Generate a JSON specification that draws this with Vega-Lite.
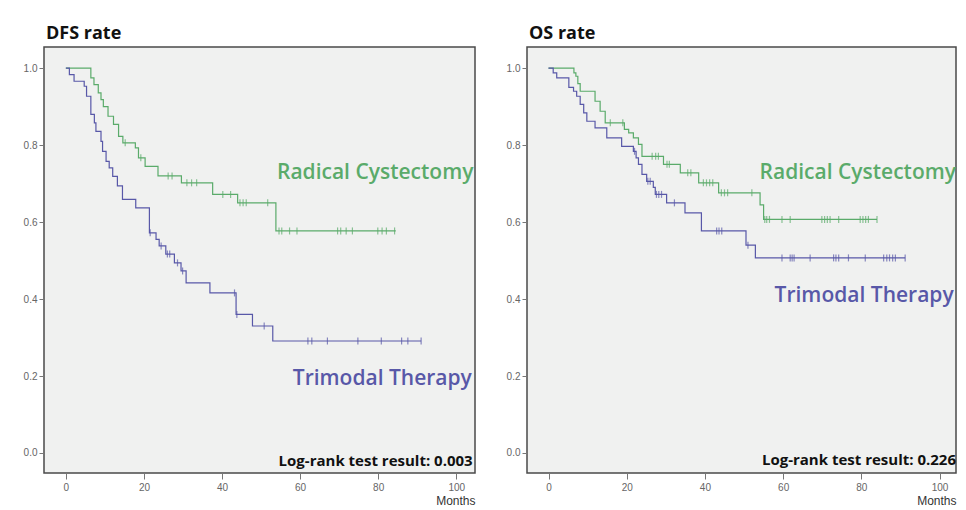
{
  "$schema": "https://vega.github.io/schema/vega-lite/v6.json",
  "background": "white",
  "padding": {"left": 22, "top": 24, "right": 4, "bottom": 1},
  "spacing": 29,
  "config": {
    "view": {"fill": "#f0f1f0", "stroke": "#4a4a4a", "strokeWidth": 1.5},
    "axis": {"labelFont": "Liberation Sans", "labelFontSize": 10, "labelColor": "#666", "tickColor": "#777", "tickSize": 5, "domain": false, "grid": false, "titleFont": "Liberation Sans"},
    "title": {"font": "Open Sans", "fontSize": 18, "fontWeight": "bold", "anchor": "start", "frame": "group", "dx": 2, "color": "#111", "offset": 4}
  },
  "datasets": {
    "dfs_curve": [
      {"g":"RC","m":0,"s":1},{"g":"RC","m":6.4,"s":0.975},{"g":"RC","m":7.2,"s":0.957},{"g":"RC","m":8.3,"s":0.936},{"g":"RC","m":9.0,"s":0.918},{"g":"RC","m":9.6,"s":0.9},{"g":"RC","m":10.8,"s":0.875},{"g":"RC","m":12.2,"s":0.854},{"g":"RC","m":13.5,"s":0.823},{"g":"RC","m":14.6,"s":0.806},{"g":"RC","m":17.8,"s":0.793},{"g":"RC","m":18.6,"s":0.767},{"g":"RC","m":20.3,"s":0.745},{"g":"RC","m":23.6,"s":0.72},{"g":"RC","m":29.6,"s":0.702},{"g":"RC","m":37.6,"s":0.672},{"g":"RC","m":44.0,"s":0.65},{"g":"RC","m":53.8,"s":0.577},{"g":"RC","m":84.5,"s":0.577},
      {"g":"TMT","m":0,"s":1},{"g":"TMT","m":0.9,"s":0.983},{"g":"TMT","m":2.1,"s":0.966},{"g":"TMT","m":4.7,"s":0.953},{"g":"TMT","m":5.3,"s":0.927},{"g":"TMT","m":6.4,"s":0.88},{"g":"TMT","m":7.3,"s":0.858},{"g":"TMT","m":7.7,"s":0.836},{"g":"TMT","m":9.0,"s":0.81},{"g":"TMT","m":9.4,"s":0.784},{"g":"TMT","m":10.3,"s":0.758},{"g":"TMT","m":11.1,"s":0.741},{"g":"TMT","m":12.0,"s":0.719},{"g":"TMT","m":13.2,"s":0.694},{"g":"TMT","m":14.5,"s":0.659},{"g":"TMT","m":17.9,"s":0.637},{"g":"TMT","m":21.4,"s":0.572},{"g":"TMT","m":23.1,"s":0.555},{"g":"TMT","m":23.9,"s":0.538},{"g":"TMT","m":25.6,"s":0.517},{"g":"TMT","m":27.8,"s":0.494},{"g":"TMT","m":29.5,"s":0.473},{"g":"TMT","m":30.8,"s":0.442},{"g":"TMT","m":36.9,"s":0.416},{"g":"TMT","m":43.6,"s":0.36},{"g":"TMT","m":47.8,"s":0.33},{"g":"TMT","m":53.0,"s":0.291},{"g":"TMT","m":91.0,"s":0.291}
    ],
    "dfs_cens": [
      {"g":"RC","m":15.2,"s":0.806},{"g":"RC","m":19.2,"s":0.767},{"g":"RC","m":26.2,"s":0.72},{"g":"RC","m":27.2,"s":0.72},{"g":"RC","m":31.0,"s":0.702},{"g":"RC","m":32.2,"s":0.702},{"g":"RC","m":33.5,"s":0.702},{"g":"RC","m":40.2,"s":0.672},{"g":"RC","m":42.2,"s":0.672},{"g":"RC","m":44.6,"s":0.65},{"g":"RC","m":45.4,"s":0.65},{"g":"RC","m":46.2,"s":0.65},{"g":"RC","m":51.7,"s":0.65},{"g":"RC","m":54.6,"s":0.577},{"g":"RC","m":55.3,"s":0.577},{"g":"RC","m":57.3,"s":0.577},{"g":"RC","m":59.2,"s":0.577},{"g":"RC","m":69.6,"s":0.577},{"g":"RC","m":70.4,"s":0.577},{"g":"RC","m":71.8,"s":0.577},{"g":"RC","m":73.4,"s":0.577},{"g":"RC","m":79.9,"s":0.577},{"g":"RC","m":81.0,"s":0.577},{"g":"RC","m":82.1,"s":0.577},{"g":"RC","m":84.2,"s":0.577},
      {"g":"TMT","m":21.6,"s":0.572},{"g":"TMT","m":24.4,"s":0.538},{"g":"TMT","m":26.0,"s":0.517},{"g":"TMT","m":26.6,"s":0.517},{"g":"TMT","m":28.6,"s":0.494},{"g":"TMT","m":29.9,"s":0.473},{"g":"TMT","m":43.2,"s":0.416},{"g":"TMT","m":43.8,"s":0.36},{"g":"TMT","m":50.8,"s":0.33},{"g":"TMT","m":62.0,"s":0.291},{"g":"TMT","m":63.0,"s":0.291},{"g":"TMT","m":67.0,"s":0.291},{"g":"TMT","m":74.8,"s":0.291},{"g":"TMT","m":80.8,"s":0.291},{"g":"TMT","m":86.0,"s":0.291},{"g":"TMT","m":87.6,"s":0.291},{"g":"TMT","m":91.0,"s":0.291}
    ],
    "os_curve": [
      {"g":"RC","m":0,"s":1},{"g":"RC","m":6.5,"s":0.988},{"g":"RC","m":7.0,"s":0.979},{"g":"RC","m":7.5,"s":0.96},{"g":"RC","m":8.1,"s":0.94},{"g":"RC","m":11.9,"s":0.914},{"g":"RC","m":13.2,"s":0.888},{"g":"RC","m":14.5,"s":0.858},{"g":"RC","m":19.4,"s":0.841},{"g":"RC","m":20.5,"s":0.832},{"g":"RC","m":21.7,"s":0.819},{"g":"RC","m":23.0,"s":0.802},{"g":"RC","m":23.9,"s":0.771},{"g":"RC","m":29.4,"s":0.75},{"g":"RC","m":33.7,"s":0.728},{"g":"RC","m":38.4,"s":0.702},{"g":"RC","m":43.5,"s":0.676},{"g":"RC","m":54.1,"s":0.645},{"g":"RC","m":55.0,"s":0.607},{"g":"RC","m":84.0,"s":0.607},
      {"g":"TMT","m":0,"s":1},{"g":"TMT","m":1.2,"s":0.988},{"g":"TMT","m":2.1,"s":0.975},{"g":"TMT","m":5.2,"s":0.95},{"g":"TMT","m":6.4,"s":0.94},{"g":"TMT","m":7.2,"s":0.927},{"g":"TMT","m":8.1,"s":0.906},{"g":"TMT","m":9.0,"s":0.884},{"g":"TMT","m":9.8,"s":0.862},{"g":"TMT","m":11.9,"s":0.845},{"g":"TMT","m":14.9,"s":0.819},{"g":"TMT","m":18.7,"s":0.797},{"g":"TMT","m":21.7,"s":0.784},{"g":"TMT","m":22.4,"s":0.767},{"g":"TMT","m":23.0,"s":0.75},{"g":"TMT","m":23.9,"s":0.724},{"g":"TMT","m":25.1,"s":0.706},{"g":"TMT","m":26.8,"s":0.69},{"g":"TMT","m":27.3,"s":0.672},{"g":"TMT","m":30.2,"s":0.65},{"g":"TMT","m":34.9,"s":0.624},{"g":"TMT","m":39.1,"s":0.577},{"g":"TMT","m":50.5,"s":0.54},{"g":"TMT","m":52.9,"s":0.507},{"g":"TMT","m":91.2,"s":0.507}
    ],
    "os_cens": [
      {"g":"RC","m":15.8,"s":0.858},{"g":"RC","m":19.0,"s":0.858},{"g":"RC","m":26.5,"s":0.771},{"g":"RC","m":27.4,"s":0.771},{"g":"RC","m":28.1,"s":0.771},{"g":"RC","m":30.3,"s":0.75},{"g":"RC","m":30.9,"s":0.75},{"g":"RC","m":35.6,"s":0.728},{"g":"RC","m":36.4,"s":0.728},{"g":"RC","m":39.6,"s":0.702},{"g":"RC","m":40.4,"s":0.702},{"g":"RC","m":41.2,"s":0.702},{"g":"RC","m":42.0,"s":0.702},{"g":"RC","m":44.2,"s":0.676},{"g":"RC","m":45.0,"s":0.676},{"g":"RC","m":45.8,"s":0.676},{"g":"RC","m":52.0,"s":0.676},{"g":"RC","m":55.3,"s":0.607},{"g":"RC","m":55.8,"s":0.607},{"g":"RC","m":56.5,"s":0.607},{"g":"RC","m":59.7,"s":0.607},{"g":"RC","m":61.8,"s":0.607},{"g":"RC","m":69.9,"s":0.607},{"g":"RC","m":70.6,"s":0.607},{"g":"RC","m":71.3,"s":0.607},{"g":"RC","m":72.0,"s":0.607},{"g":"RC","m":74.2,"s":0.607},{"g":"RC","m":79.7,"s":0.607},{"g":"RC","m":80.4,"s":0.607},{"g":"RC","m":81.1,"s":0.607},{"g":"RC","m":81.8,"s":0.607},{"g":"RC","m":84.0,"s":0.607},
      {"g":"TMT","m":22.0,"s":0.784},{"g":"TMT","m":25.4,"s":0.706},{"g":"TMT","m":26.0,"s":0.706},{"g":"TMT","m":27.6,"s":0.672},{"g":"TMT","m":28.2,"s":0.672},{"g":"TMT","m":28.9,"s":0.672},{"g":"TMT","m":32.2,"s":0.65},{"g":"TMT","m":43.0,"s":0.577},{"g":"TMT","m":43.6,"s":0.577},{"g":"TMT","m":44.3,"s":0.577},{"g":"TMT","m":51.0,"s":0.54},{"g":"TMT","m":59.7,"s":0.507},{"g":"TMT","m":61.8,"s":0.507},{"g":"TMT","m":62.3,"s":0.507},{"g":"TMT","m":62.8,"s":0.507},{"g":"TMT","m":66.9,"s":0.507},{"g":"TMT","m":72.9,"s":0.507},{"g":"TMT","m":73.5,"s":0.507},{"g":"TMT","m":74.2,"s":0.507},{"g":"TMT","m":76.7,"s":0.507},{"g":"TMT","m":81.0,"s":0.507},{"g":"TMT","m":85.7,"s":0.507},{"g":"TMT","m":86.5,"s":0.507},{"g":"TMT","m":87.2,"s":0.507},{"g":"TMT","m":88.0,"s":0.507},{"g":"TMT","m":88.7,"s":0.507},{"g":"TMT","m":91.2,"s":0.507}
    ],
    "dfs_labels": [
      {"g":"RC","m":104.4,"s":0.727,"label":"Radical Cystectomy"},
      {"g":"TMT","m":104.0,"s":0.192,"label":"Trimodal Therapy"}
    ],
    "os_labels": [
      {"g":"RC","m":104.2,"s":0.727,"label":"Radical Cystectomy"},
      {"g":"TMT","m":103.6,"s":0.408,"label":"Trimodal Therapy"}
    ],
    "dfs_lr": [{"m":104.2,"s":-0.022,"label":"Log-rank test result: 0.003"}],
    "os_lr": [{"m":104.2,"s":-0.018,"label":"Log-rank test result: 0.226"}]
  },
  "hconcat": [
    {
      "title": {"text": "DFS rate"},
      "width": 431,
      "height": 426,
      "layer": [
        {
          "data": {"name": "dfs_curve"},
          "mark": {"type": "line", "interpolate": "step-after", "strokeWidth": 1.2},
          "encoding": {
            "x": {"field": "m", "type": "quantitative", "scale": {"domain": [-5.6, 104.8], "nice": false, "zero": false}, "axis": {"values": [0,20,40,60,80,100], "title": "Months", "titleAnchor": "end", "titleAlign": "right", "titleFontSize": 12, "titleFontWeight": "normal", "titleColor": "#333", "titlePadding": 3, "labelPadding": 3, "tickSize": 6}},
            "y": {"field": "s", "type": "quantitative", "scale": {"domain": [-0.052, 1.055], "nice": false, "zero": false}, "axis": {"values": [0,0.2,0.4,0.6,0.8,1.0], "format": ".1f", "title": null, "labelPadding": 2}},
            "color": {"field": "g", "type": "nominal", "scale": {"domain": ["RC","TMT"], "range": ["#5aab6a","#5858a8"]}, "legend": null}
          }
        },
        {
          "data": {"name": "dfs_cens"},
          "mark": {"type": "tick", "orient": "vertical", "size": 7, "thickness": 1.2},
          "encoding": {
            "x": {"field": "m", "type": "quantitative"},
            "y": {"field": "s", "type": "quantitative"},
            "color": {"field": "g", "type": "nominal", "legend": null}
          }
        },
        {
          "data": {"name": "dfs_labels"},
          "mark": {"type": "text", "align": "right", "baseline": "middle", "font": "Open Sans", "fontSize": 21, "fontWeight": 600},
          "encoding": {
            "x": {"field": "m", "type": "quantitative"},
            "y": {"field": "s", "type": "quantitative"},
            "text": {"field": "label"},
            "color": {"field": "g", "type": "nominal", "legend": null}
          }
        },
        {
          "data": {"name": "dfs_lr"},
          "mark": {"type": "text", "align": "right", "baseline": "middle", "font": "Open Sans", "fontSize": 15, "fontWeight": "bold", "color": "#111"},
          "encoding": {
            "x": {"field": "m", "type": "quantitative"},
            "y": {"field": "s", "type": "quantitative"},
            "text": {"field": "label"}
          }
        }
      ]
    },
    {
      "title": {"text": "OS rate"},
      "width": 429,
      "height": 426,
      "layer": [
        {
          "data": {"name": "os_curve"},
          "mark": {"type": "line", "interpolate": "step-after", "strokeWidth": 1.2},
          "encoding": {
            "x": {"field": "m", "type": "quantitative", "scale": {"domain": [-5.5, 104.2], "nice": false, "zero": false}, "axis": {"values": [0,20,40,60,80,100], "title": "Months", "titleAnchor": "end", "titleAlign": "right", "titleFontSize": 12, "titleFontWeight": "normal", "titleColor": "#333", "titlePadding": 3, "labelPadding": 3, "tickSize": 6}},
            "y": {"field": "s", "type": "quantitative", "scale": {"domain": [-0.052, 1.055], "nice": false, "zero": false}, "axis": {"values": [0,0.2,0.4,0.6,0.8,1.0], "format": ".1f", "title": null, "labelPadding": 2}},
            "color": {"field": "g", "type": "nominal", "scale": {"domain": ["RC","TMT"], "range": ["#5aab6a","#5858a8"]}, "legend": null}
          }
        },
        {
          "data": {"name": "os_cens"},
          "mark": {"type": "tick", "orient": "vertical", "size": 7, "thickness": 1.2},
          "encoding": {
            "x": {"field": "m", "type": "quantitative"},
            "y": {"field": "s", "type": "quantitative"},
            "color": {"field": "g", "type": "nominal", "legend": null}
          }
        },
        {
          "data": {"name": "os_labels"},
          "mark": {"type": "text", "align": "right", "baseline": "middle", "font": "Open Sans", "fontSize": 21, "fontWeight": 600},
          "encoding": {
            "x": {"field": "m", "type": "quantitative"},
            "y": {"field": "s", "type": "quantitative"},
            "text": {"field": "label"},
            "color": {"field": "g", "type": "nominal", "legend": null}
          }
        },
        {
          "data": {"name": "os_lr"},
          "mark": {"type": "text", "align": "right", "baseline": "middle", "font": "Open Sans", "fontSize": 15, "fontWeight": "bold", "color": "#111"},
          "encoding": {
            "x": {"field": "m", "type": "quantitative"},
            "y": {"field": "s", "type": "quantitative"},
            "text": {"field": "label"}
          }
        }
      ]
    }
  ]
}
